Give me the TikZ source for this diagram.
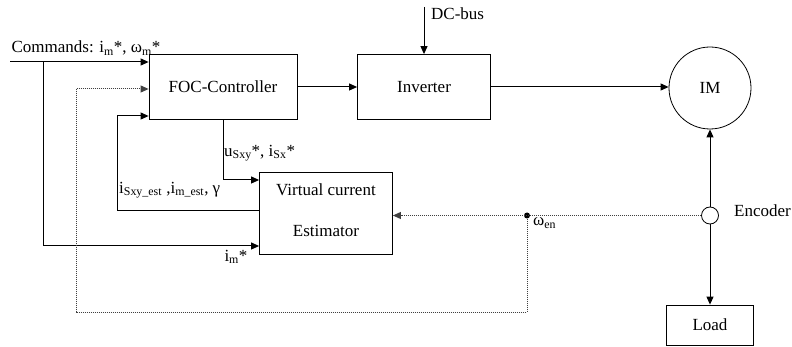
\documentclass[tikz,border=0pt]{standalone}
\usepackage{fontspec}
\setmainfont{Liberation Serif}
\usetikzlibrary{arrows.meta}
\tikzset{
    block/.style={draw, line width=0.8pt, inner sep=0pt},
    arr/.style={line width=1pt, -{Triangle[length=8pt,width=7pt]}},
    fb/.style={arr, densely dotted, black!75},
    lbl/.style={inner sep=0pt}
}
\begin{document}
\begin{tikzpicture}[x=1pt, y=-1pt, font=\fontsize{17}{20}\selectfont]
        \useasboundingbox (0,0) rectangle (792,347);

        \node[block, minimum width=148pt, minimum height=65pt] (foc) at (223,87) {FOC-Controller};
        \node[block, minimum width=133pt, minimum height=65pt] (inv) at (424,87) {Inverter};
        \node[block, minimum width=133pt, minimum height=82pt] (est) at (326,213) {};
        \node[lbl] (esttop) at (326,190) {Virtual current};
        \node[lbl] (estbot) at (326,231) {Estimator};
        \node[block, circle, minimum size=82pt] (im) at (710,88) {IM};
        \node[block, circle, fill=white, minimum size=17pt] (enc) at (710,215.5) {};
        \node[block, minimum width=87pt, minimum height=40pt] (load) at (710,325) {Load};
        \node[circle, fill, inner sep=0pt, minimum size=6pt] (tap) at (527,215.5) {};

        \coordinate (cmd) at (10,62);
        \coordinate (split) at (43,62);
        \coordinate (dc) at (424,7);
        \coordinate (fbcorner) at (76,312);
        \coordinate (estback) at (117,116);

        \draw[arr] (cmd) -- (cmd -| foc.west);
        \draw[arr] (split) |- ([yshift=-33pt]est.west);
        \draw[fb] (tap) |- (fbcorner) |- ([yshift=-2pt]foc.west);
        \draw[arr] ([yshift=2pt]est.west) -| (estback) -- (estback -| foc.west);
        \draw[arr] (foc.south) |- ([yshift=33pt]est.west);
        \draw[arr] (foc) -- (inv);
        \draw[arr] (inv.east) -- (inv.east -| im.west);
        \draw[arr] (dc) -- (inv.north);
        \draw[arr] (enc) -- (im);
        \draw[arr] (enc) -- (load);
        \draw[fb] (enc.west) -- (est.east |- enc);

        \node[lbl] (cmdlbl) at (86,48) {Commands: i\textsubscript{m}*, ω\textsubscript{m}*};
        \node[lbl, anchor=west] (dclbl) at (431,14) {DC-bus};
        \node[lbl, anchor=west] (ulbl) at (224,153) {u\textsubscript{Sxy}*, i\textsubscript{Sx}*};
        \node[lbl, anchor=west] (estlbl) at (119,190) {i\textsubscript{Sxy\_est} ,i\textsubscript{m\_est}, γ};
        \node[lbl] (imlbl) at (236,257) {i\textsubscript{m}*};
        \node[lbl, anchor=west] (wenlbl) at (533,223) {ω\textsubscript{en}};
        \node[lbl, anchor=west] (enclbl) at (734,211) {Encoder};

    \end{tikzpicture}
\end{document}
